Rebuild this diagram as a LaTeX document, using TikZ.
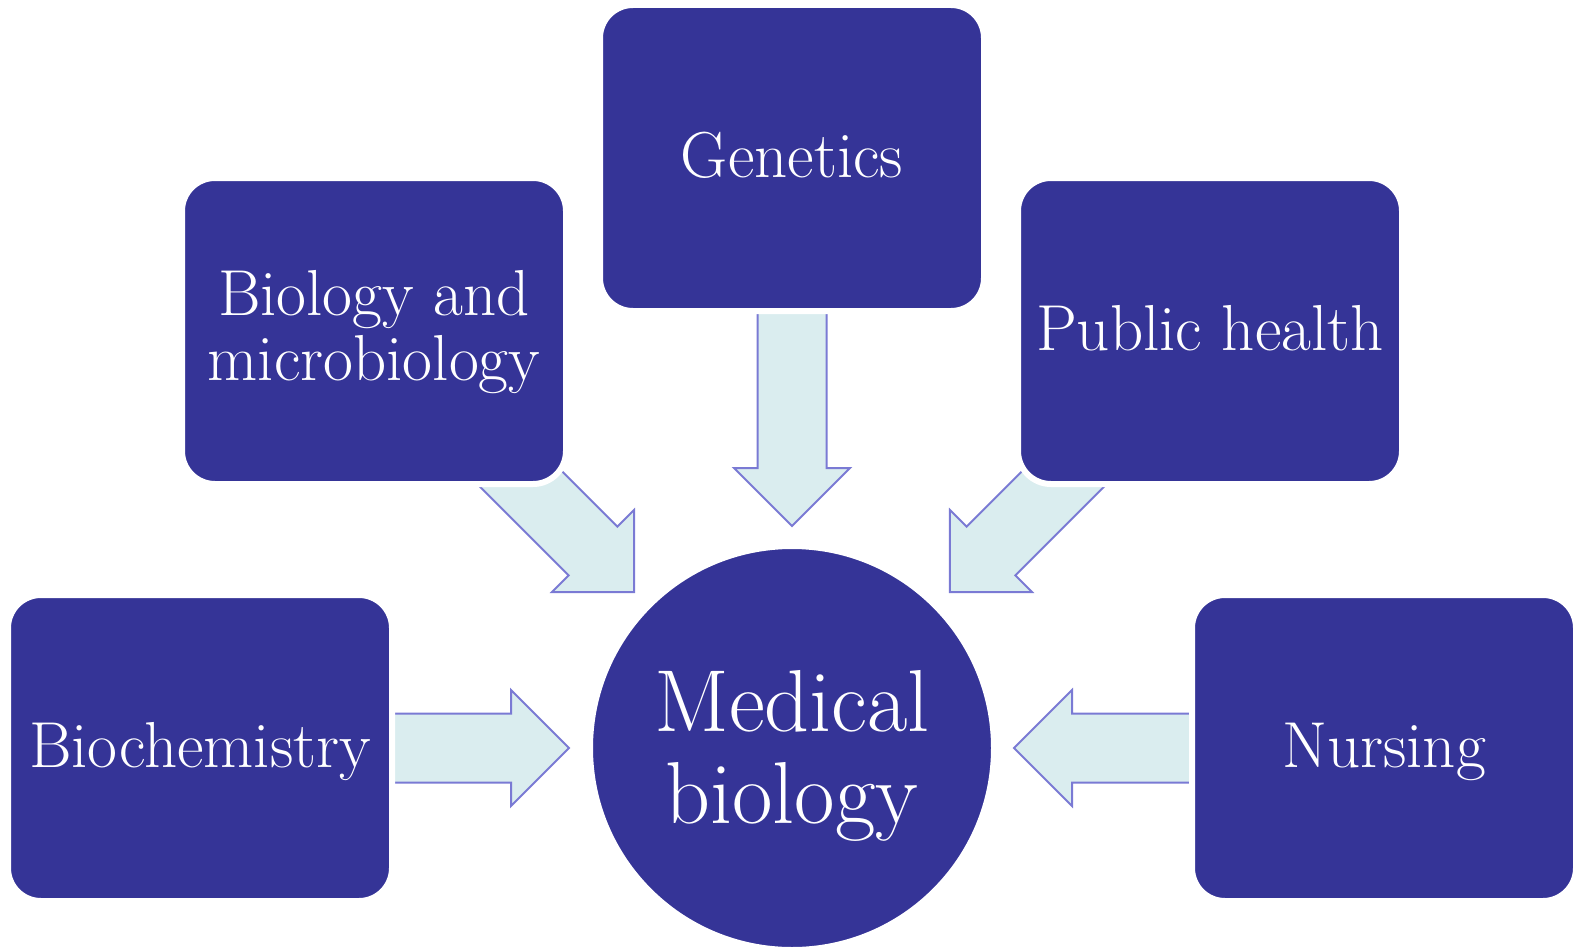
\documentclass[tikz,border=0pt]{standalone}
\usetikzlibrary{backgrounds,calc}
\definecolor{boxblue}{RGB}{53,52,151}
\definecolor{arrowfill}{RGB}{218,237,239}
\definecolor{arrowline}{RGB}{122,122,212}
\tikzset{
  box/.style={rectangle, rounded corners=33pt, fill=boxblue, draw=white, line width=6pt,
    minimum width=384pt, minimum height=306pt, text=white, inner sep=0pt,
    font=\fontsize{65}{65}\selectfont},
  oneline/.style={text height=38pt, text depth=0pt},
  hub/.style={circle, fill=boxblue, draw=white, line width=6pt, minimum size=404pt,
    inner sep=0pt, text=white, align=center, font=\fontsize{88}{92}\selectfont},
  arrowshape/.style={fill=arrowfill, draw=arrowline, line width=2pt},
  pics/blockarrow/.style={code={
    \path[arrowshape] (0,-34.5) -- (#1-58,-34.5) -- (#1-58,-58) -- (#1,0)
      -- (#1-58,58) -- (#1-58,34.5) -- (0,34.5) -- cycle;}}
}
\begin{document}
\begin{tikzpicture}[x=1pt,y=-1pt]
\useasboundingbox (0,0) rectangle (1576,950);
\node[box,oneline] (gen) at (792,158) {Genetics};
\node[box,align=center] (bio) at (374,331) {\rule{0pt}{48pt}Biology and\\microbiology};
\node[box,oneline] (ph) at (1210,331) {Public health};
\node[box,oneline] (bch) at (200,748) {Biochemistry};
\node[box,oneline] (nur) at (1384,748) {Nursing};
\node[hub] (med) at (792,748) {\rule{0pt}{76pt}Medical\\biology};
\begin{scope}[on background layer]
  \pic[rotate=-90] at ($(gen.center)+(0,132)$) {blockarrow=236};
  \pic[rotate=0] at ($(bch.center)+(180,0)$) {blockarrow=189};
  \pic[rotate=180] at ($(nur.center)+(-179,0)$) {blockarrow=191};
  \pic[rotate=-45] at ($(bio.center)+(109.4,110.4)$) {blockarrow=213};
  \pic[rotate=-135] at ($(ph.center)+(-109.4,110.4)$) {blockarrow=213};
\end{scope}
\end{tikzpicture}
\end{document}
